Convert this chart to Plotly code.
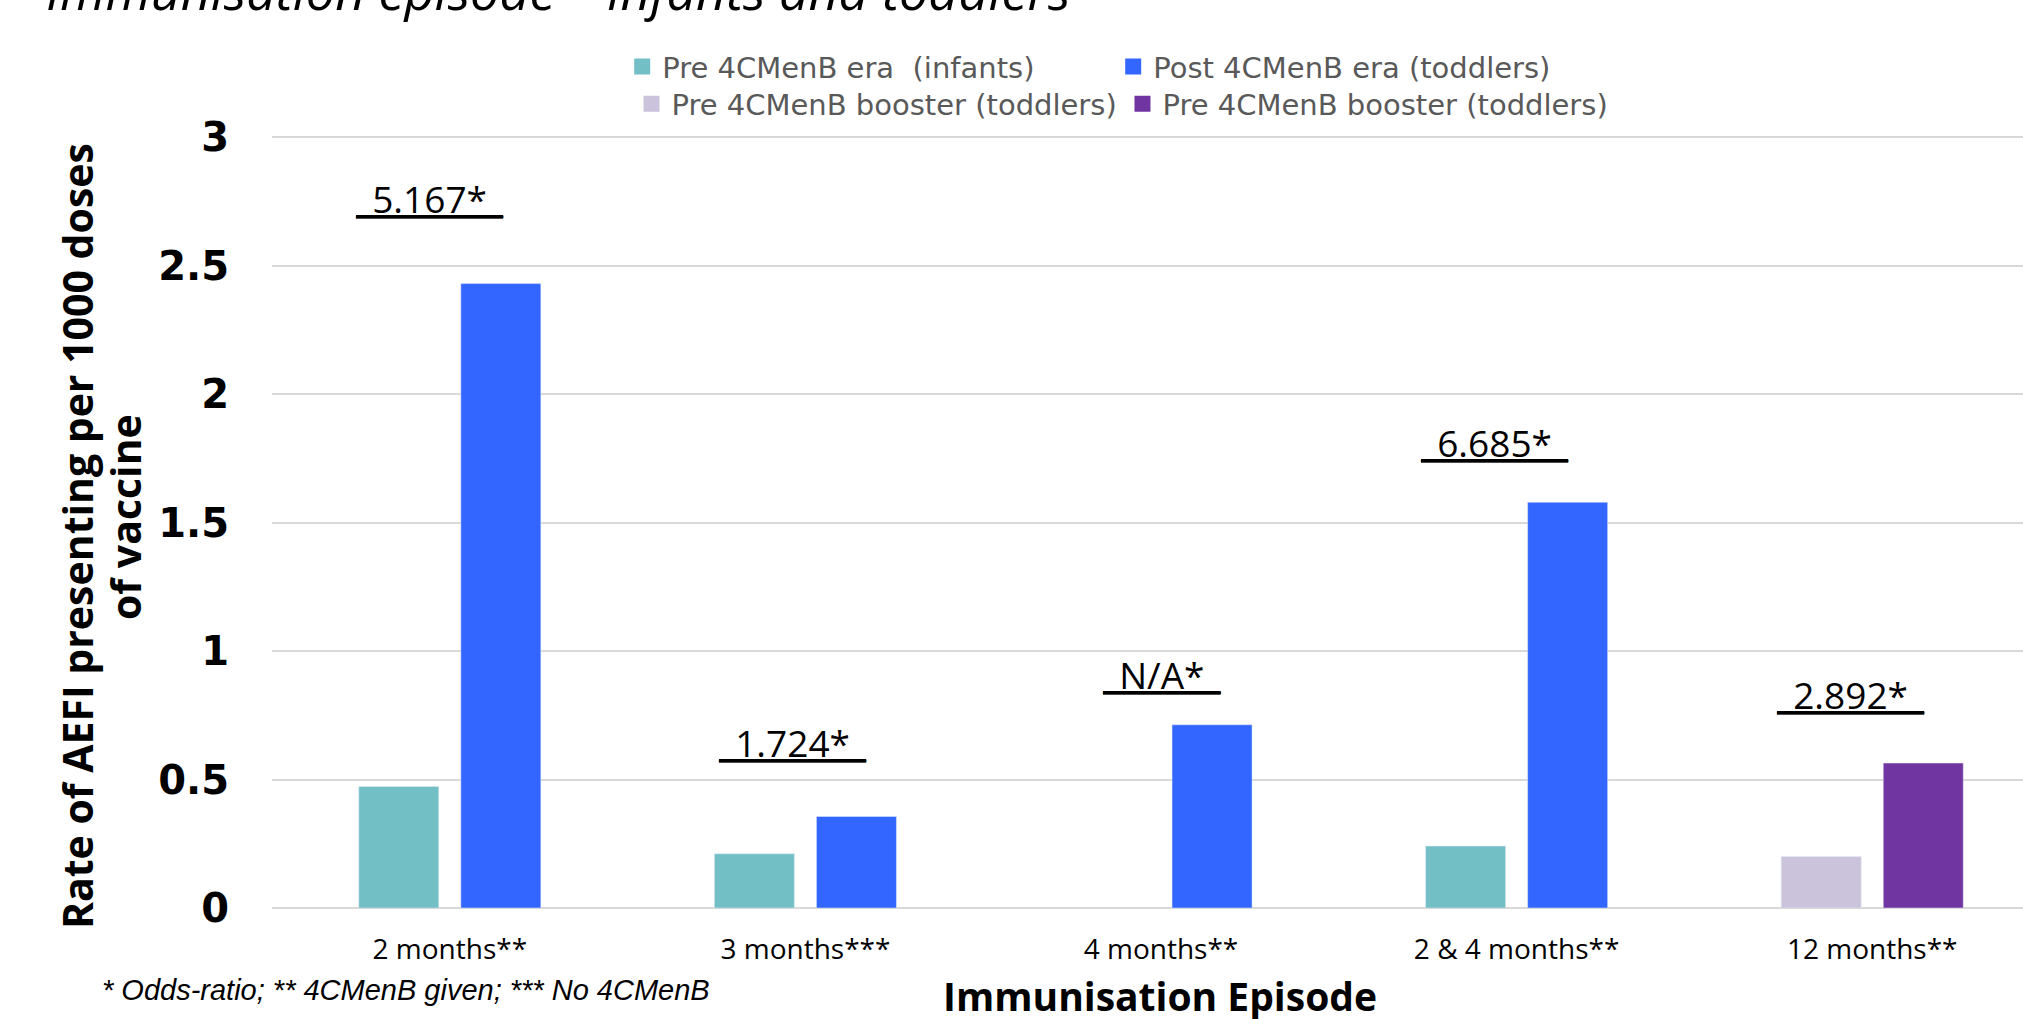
import plotly.graph_objects as go

# Immunisation episodes (x categories)
episodes = ["2 months**", "3 months***", "4 months**", "2 & 4 months**", "12 months**"]

# Rate of AEFI presenting per 1000 doses of vaccine
pre_era_infants = [0.473, 0.211, None, 0.241, None]
post_era_toddlers = [2.430, 0.356, 0.713, 1.579, None]
pre_booster_light = [None, None, None, None, 0.200]
pre_booster_dark = [None, None, None, None, 0.564]

# Odds-ratio labels above each episode and the height they sit at
odds_labels = ["5.167*", "1.724*", "N/A*", "6.685*", "2.892*"]
odds_label_y = [2.762, 0.643, 0.908, 1.813, 0.830]

y_ticks = [0, 0.5, 1, 1.5, 2, 2.5, 3]

series_names = [
    "Pre 4CMenB era\u00a0 (infants)",
    "Post 4CMenB era (toddlers)",
    "Pre 4CMenB booster (toddlers)",
    "Pre 4CMenB booster (toddlers)",
]

TEAL = "#73BFC6"
BLUE = "#3366FF"
LAVENDER = "#CBC3DC"
PURPLE = "#7035A0"
GRID = "#D9D9D9"

# horizontal pixel nudges for the odds-ratio labels
label_nudge = [-20, -13, 0, -22, -22]

fig = go.Figure()
bar_specs = [
    (pre_era_infants, TEAL, "left"),
    (post_era_toddlers, BLUE, "right"),
    (pre_booster_light, LAVENDER, "left"),
    (pre_booster_dark, PURPLE, "right"),
]
for values, color, group in bar_specs:
    fig.add_trace(go.Bar(x=episodes, y=values, marker_color=color,
                         offsetgroup=group, showlegend=False))

# Legend entries with larger square swatches, two per row
legend_ids = ["legend", "legend", "legend2", "legend2"]
for name, (_, color, _), lg in zip(series_names, bar_specs, legend_ids):
    fig.add_trace(go.Scatter(x=[None], y=[None], mode="markers", name=name,
                             marker=dict(symbol="square", size=16, color=color),
                             legend=lg, hoverinfo="skip"))

annotations = []
for ep, lab, ly, dx in zip(episodes, odds_labels, odds_label_y, label_nudge):
    annotations.append(dict(
        x=ep, y=ly, xref="x", yref="y", text="<u>_" + lab + "_</u>",
        showarrow=False, xanchor="center", yanchor="middle", xshift=dx,
        font=dict(family="Open Sans", size=37, color="#000000"),
    ))

# Heading partly above the page edge
annotations.append(dict(
    x=-0.1303, y=1.1838, xref="paper", yref="paper", xanchor="left", yanchor="middle",
    text="<i>Immunisation episode \u2013 infants and toddlers</i>", showarrow=False,
    font=dict(family="Open Sans", size=52, color="#000000"),
))

# Y-axis title, one annotation per line
annotations.append(dict(
    x=-0.1117, y=0.4798, xref="paper", yref="paper", xanchor="center", yanchor="middle",
    text="<b>Rate of AEFI presenting per 1000 doses</b>", textangle=-90,
    showarrow=False, font=dict(family="Open Sans", size=41, color="#000000"),
))
annotations.append(dict(
    x=-0.084, y=0.5037, xref="paper", yref="paper", xanchor="center", yanchor="middle",
    text="<b>of vaccine</b>", textangle=-90,
    showarrow=False, font=dict(family="Open Sans", size=41, color="#000000"),
))

# X-axis title
annotations.append(dict(
    x=0.5074, y=-0.1129, xref="paper", yref="paper", xanchor="center", yanchor="middle",
    text="<b>Immunisation Episode</b>", showarrow=False,
    font=dict(family="Open Sans", size=39, color="#000000"),
))

# Footnote
annotations.append(dict(
    x=-0.098, y=-0.1058, xref="paper", yref="paper", xanchor="left", yanchor="middle",
    text="<i>* Odds-ratio; ** 4CMenB given; *** No 4CMenB</i>", showarrow=False,
    font=dict(family="Liberation Sans, Arial, sans-serif", size=29, color="#000000"),
))

legend_common = dict(
    orientation="h", xanchor="left", yanchor="middle", xref="paper", yref="paper",
    entrywidth=446, entrywidthmode="pixels", bgcolor="rgba(0,0,0,0)",
    font=dict(family="DejaVu Sans", size=29, color="#595959"),
    itemclick=False, itemdoubleclick=False,
)

fig.update_layout(
    width=2023, height=1019,
    margin=dict(l=272, r=0, t=132, b=111, autoexpand=False),
    paper_bgcolor="white", plot_bgcolor="white",
    barmode="group", bargap=0.426, bargroupgap=0.216,
    showlegend=True,
    legend=dict(x=0.2, y=1.0841, **legend_common),
    legend2=dict(x=0.2053, y=1.0363, **legend_common),
    annotations=annotations,
    xaxis=dict(
        type="category", range=[-0.5, 4.424], autorange=False,
        showgrid=False, showline=False, zeroline=False, ticks="",
        ticklabelstandoff=22,
        tickfont=dict(family="Open Sans", size=28, color="#000000"),
    ),
    yaxis=dict(
        range=[0, 3.02], autorange=False, tickvals=y_ticks,
        showgrid=True, gridcolor=GRID, gridwidth=2,
        zeroline=True, zerolinecolor=GRID, zerolinewidth=2,
        showline=False, ticks="", ticklabelstandoff=42,
        tickfont=dict(family="DejaVu Sans", size=40, color="#000000", weight="bold"),
    ),
)

fig.write_html("out.html")
